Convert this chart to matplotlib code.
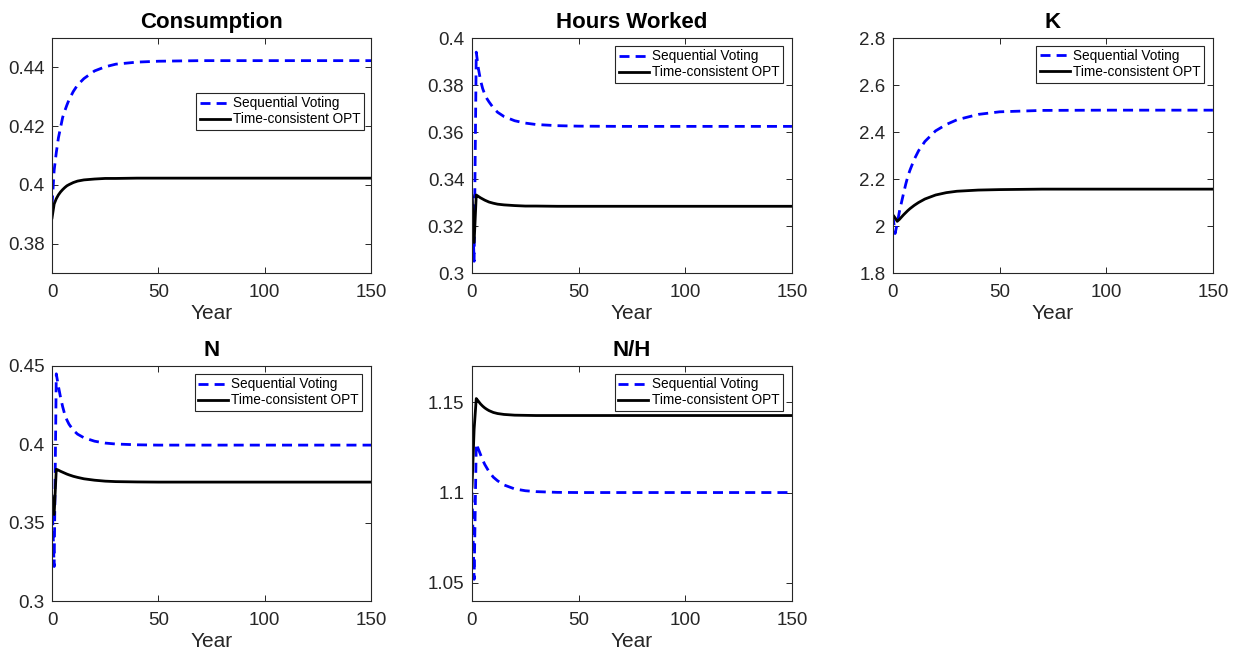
import numpy as np
import matplotlib
matplotlib.use('Agg')
import matplotlib.pyplot as plt
from matplotlib.ticker import FuncFormatter

plt.rcParams['font.family'] = ['Liberation Sans', 'DejaVu Sans']

# common time grid (years)
years = [0, 1, 2, 3, 4, 5, 6, 7, 8, 10, 12, 15, 20, 25, 30, 40, 50, 70, 100, 150]

# Consumption
cons_seq = [0.393, 0.405, 0.411, 0.416, 0.4195, 0.4230, 0.4252, 0.4272, 0.4290, 0.4318,
            0.4340, 0.4362, 0.4388, 0.4402, 0.4411, 0.4418, 0.4421, 0.4423, 0.4423, 0.4423]
cons_opt = [0.3888, 0.3935, 0.3953, 0.3966, 0.3976, 0.3984, 0.3991, 0.3997, 0.4001, 0.4008,
            0.4013, 0.4017, 0.4020, 0.4022, 0.4022, 0.4023, 0.4023, 0.4023, 0.4023, 0.4023]

# Hours worked
hours_seq = [0.333, 0.305, 0.394, 0.3870, 0.3820, 0.3785, 0.3760, 0.3742, 0.3728, 0.3703,
             0.3684, 0.3666, 0.3648, 0.3638, 0.3632, 0.3627, 0.3625, 0.3624, 0.3624, 0.3624]
hours_opt = [0.333, 0.313, 0.3332, 0.3326, 0.3320, 0.3315, 0.3310, 0.3306, 0.3302, 0.3297,
             0.3293, 0.3290, 0.3287, 0.3285, 0.3285, 0.3284, 0.3284, 0.3284, 0.3284, 0.3284]

# Capital
k_seq = [2.046, 1.968, 2.010, 2.060, 2.100, 2.140, 2.178, 2.212, 2.238, 2.284,
         2.320, 2.360, 2.405, 2.432, 2.452, 2.475, 2.486, 2.492, 2.493, 2.493]
k_opt = [2.047, 2.035, 2.020, 2.028, 2.038, 2.048, 2.057, 2.066, 2.074, 2.088,
         2.100, 2.115, 2.132, 2.142, 2.148, 2.153, 2.155, 2.157, 2.157, 2.157]

# N
n_seq = [0.365, 0.322, 0.445, 0.437, 0.430, 0.424, 0.419, 0.4155, 0.4128, 0.4090,
         0.4065, 0.4042, 0.4020, 0.4008, 0.4002, 0.3997, 0.3995, 0.3995, 0.3995, 0.3995]
n_opt = [0.367, 0.3552, 0.3841, 0.3835, 0.3828, 0.3822, 0.3816, 0.3810, 0.3805, 0.3796,
         0.3789, 0.3780, 0.3771, 0.3765, 0.3762, 0.3760, 0.3759, 0.3759, 0.3759, 0.3759]

# N/H
nh_seq = [1.100, 1.052, 1.127, 1.124, 1.121, 1.118, 1.1155, 1.1135, 1.1115, 1.1085,
          1.1065, 1.1042, 1.1020, 1.1010, 1.1005, 1.1001, 1.1000, 1.1000, 1.1000, 1.1000]
nh_opt = [1.103, 1.135, 1.152, 1.1505, 1.149, 1.1478, 1.1468, 1.1460, 1.1453, 1.1443,
          1.1437, 1.1432, 1.1428, 1.1427, 1.1426, 1.1426, 1.1426, 1.1426, 1.1426, 1.1426]

gray = '#262626'

fig = plt.figure(figsize=(12.33, 6.51), dpi=100)

panels = [
    ('Consumption', cons_seq, cons_opt, [0.0422, 0.5806, 0.2587, 0.361], (0.37, 0.45), [0.38, 0.40, 0.42, 0.44], (0.978, 0.766)),
    ('Hours Worked', hours_seq, hours_opt, [0.3828, 0.5806, 0.2595, 0.361], (0.30, 0.40), [0.30, 0.32, 0.34, 0.36, 0.38, 0.40], (0.972, 0.966)),
    ('K', k_seq, k_opt, [0.7242, 0.5806, 0.2595, 0.361], (1.8, 2.8), [1.8, 2.0, 2.2, 2.4, 2.6, 2.8], (0.972, 0.967)),
    ('N', n_seq, n_opt, [0.0422, 0.0768, 0.2587, 0.361], (0.30, 0.45), [0.30, 0.35, 0.40, 0.45], (0.973, 0.966)),
    ('N/H', nh_seq, nh_opt, [0.3828, 0.0768, 0.2595, 0.361], (1.04, 1.17), [1.05, 1.10, 1.15], (0.971, 0.966)),
]

for title, seq, opt, rect, ylim, yticks, leg_pos in panels:
    ax = fig.add_axes(rect)
    ax.plot(years, seq, color='blue', linestyle=(0, (3.6, 2.2)), linewidth=2.0, label='Sequential Voting')
    ax.plot(years, opt, color='black', linewidth=2.0, label='Time-consistent OPT')
    ax.set_xlim(0, 150)
    ax.set_ylim(*ylim)
    ax.set_xticks([0, 50, 100, 150])
    ax.set_yticks(yticks)
    ax.yaxis.set_major_formatter(FuncFormatter(lambda v, p: '%g' % round(v, 4)))
    ax.tick_params(direction='in', top=True, right=True, length=4, width=0.7,
                   labelsize=13.5, colors=gray)
    ax.tick_params(axis='x', pad=8)
    ax.tick_params(axis='y', pad=5.5)
    for s in ax.spines.values():
        s.set_color(gray)
        s.set_linewidth(0.8)
    ax.set_title(title, fontsize=16, fontweight='bold', pad=7)
    ax.set_xlabel('Year', fontsize=15, color=gray, labelpad=2)
    leg = ax.legend(loc='upper right', bbox_to_anchor=leg_pos, borderaxespad=0,
                    fontsize=9.8, fancybox=False, framealpha=1, edgecolor=gray,
                    handlelength=2.2, handletextpad=0.25, labelspacing=0.15, borderpad=0.25)
    leg.get_frame().set_linewidth(0.8)

fig.savefig('out.png', dpi=100)
